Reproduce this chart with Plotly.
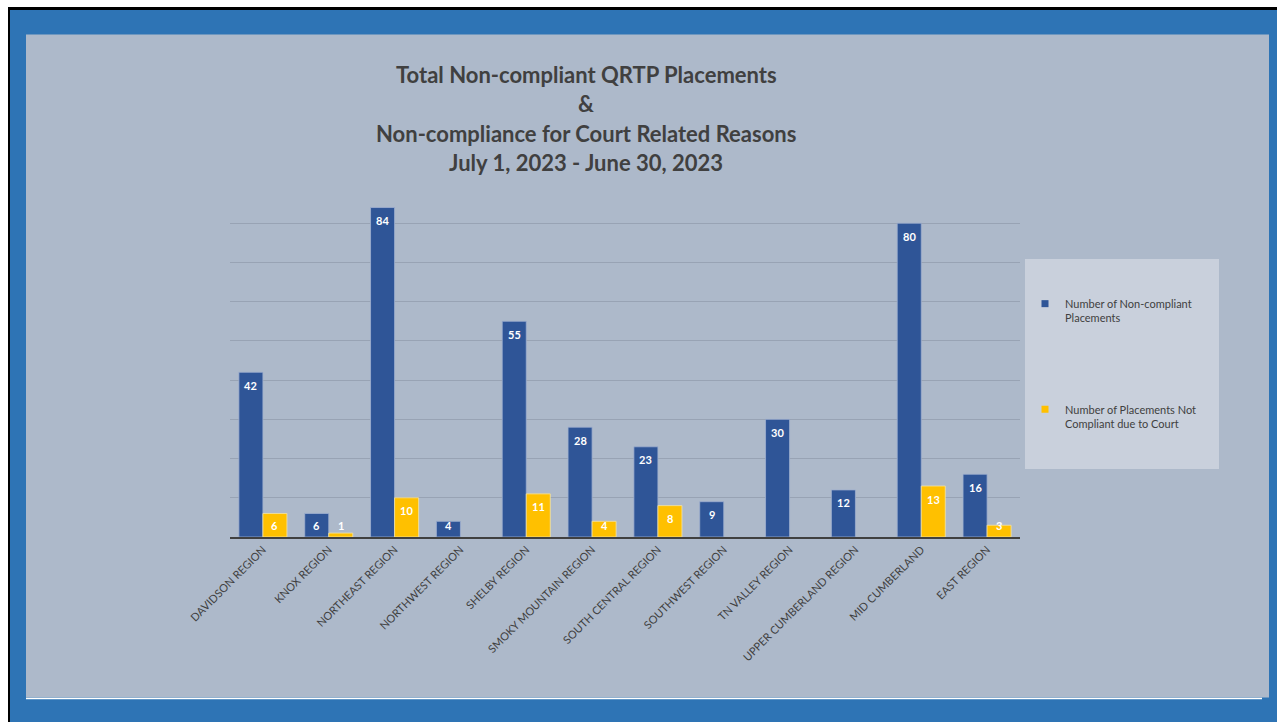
import plotly.graph_objects as go

regions = ["DAVIDSON REGION", "KNOX REGION", "NORTHEAST REGION", "NORTHWEST REGION",
           "SHELBY REGION", "SMOKY MOUNTAIN REGION", "SOUTH CENTRAL REGION",
           "SOUTHWEST REGION", "TN VALLEY REGION", "UPPER CUMBERLAND REGION",
           "MID CUMBERLAND", "EAST REGION"]
non_compliant = [42, 6, 84, 4, 55, 28, 23, 9, 30, 12, 80, 16]
court_related = [6, 1, 10, None, 11, 4, 8, None, None, None, 13, 3]
series_names = ["Number of Non-compliant<br>Placements",
                "Number of Placements Not<br>Compliant due to Court"]
title_lines = ["Total Non-compliant QRTP Placements", "&",
               "Non-compliance for Court Related Reasons",
               "July 1, 2023 - June 30, 2023"]

W, H = 1277, 722
L, R, T, B = 230, 257, 184, 185
PW, PH = W - L - R, H - T - B
YMAX = 90


def px(x):
    return (x - L) / PW


def py(y):
    return (H - B - y) / PH


BLUE = "#2F5597"
YELLOW = "#FFC000"
TXT = "#404040"
FONT = "Lato"

fig = go.Figure()
fig.add_trace(go.Bar(x=regions, y=non_compliant, marker=dict(color=BLUE, line=dict(color="#9FB0CF", width=0.8)),
                     showlegend=False, hoverinfo="y"))
fig.add_trace(go.Bar(x=regions, y=court_related, marker=dict(color=YELLOW, line=dict(color="#F3E3A8", width=0.8)),
                     showlegend=False, hoverinfo="y"))
# legend entries
for name, col in zip(series_names, [BLUE, YELLOW]):
    fig.add_trace(go.Scatter(x=[None], y=[None], mode="markers", name=name, legendgroup=name,
                             marker=dict(symbol="square", size=7, color=col)))

shapes = [
    dict(type="rect", xref="paper", yref="paper", x0=px(8), x1=px(1400), y0=py(7), y1=py(800),
         fillcolor="#000000", line=dict(width=0), layer="below"),
    dict(type="rect", xref="paper", yref="paper", x0=px(10), x1=px(1400), y0=py(10), y1=py(800),
         fillcolor="#2E74B5", line=dict(width=0), layer="below"),
    dict(type="rect", xref="paper", yref="paper", x0=px(26), x1=px(1269), y0=py(34.5), y1=py(697.5),
         fillcolor="#ADB9CA", line=dict(width=0), layer="below"),
    dict(type="line", xref="paper", yref="paper", x0=px(26), x1=px(1262), y0=py(698.5), y1=py(698.5),
         line=dict(color="#FFFFFF", width=1.5), layer="below"),
    dict(type="rect", xref="paper", yref="paper", x0=px(1025), x1=px(1219), y0=py(259), y1=py(469),
         fillcolor="#C9D0DC", line=dict(width=0), layer="below"),
]

annotations = []
for i, line in enumerate(title_lines):
    annotations.append(dict(text=f"<b>{line}</b>", xref="paper", yref="paper", x=px(586),
                            y=py(74 + i * 29.5), xanchor="center", yanchor="middle", showarrow=False,
                            font=dict(family=FONT, size=22, color=TXT)))

ppu = PH / YMAX
for series, off in ((non_compliant, -0.1825), (court_related, 0.1825)):
    for i, v in enumerate(series):
        if v is None:
            continue
        if v * ppu < 25:
            yy, ys = 0, 12
        else:
            yy, ys = v, -13
        annotations.append(dict(text=f"<b>{v}</b>", x=i + off, y=yy, xref="x", yref="y", yshift=ys,
                                showarrow=False, xanchor="center", yanchor="middle",
                                font=dict(family=FONT, size=11, color="#FFFFFF")))

fig.update_layout(
    width=W, height=H,
    margin=dict(l=L, r=R, t=T, b=B, pad=0),
    paper_bgcolor="#FFFFFF",
    plot_bgcolor="rgba(0,0,0,0)",
    barmode="group", bargap=0.27, bargroupgap=0,
    font=dict(family=FONT, color=TXT),
    shapes=shapes, annotations=annotations,
    showlegend=True,
    legend=dict(x=px(1025), y=py(290), xanchor="left", yanchor="top", bgcolor="rgba(0,0,0,0)",
                font=dict(family=FONT, size=11, color=TXT), tracegroupgap=74, itemwidth=30,
                valign="top", traceorder="grouped"),
    xaxis=dict(showgrid=False, showline=True, linecolor="#404040", linewidth=2, ticks="",
               tickangle=-45, tickfont=dict(family=FONT, size=11, color=TXT), fixedrange=True),
    yaxis=dict(range=[0, YMAX], dtick=10, showgrid=True, gridcolor="#98A3B4", gridwidth=1,
               showticklabels=False, zeroline=False, showline=False, ticks="", fixedrange=True),
)

fig.write_html("out.html", config={"displayModeBar": False},
               post_script="document.body.style.margin='0';document.body.style.overflow='hidden';")
